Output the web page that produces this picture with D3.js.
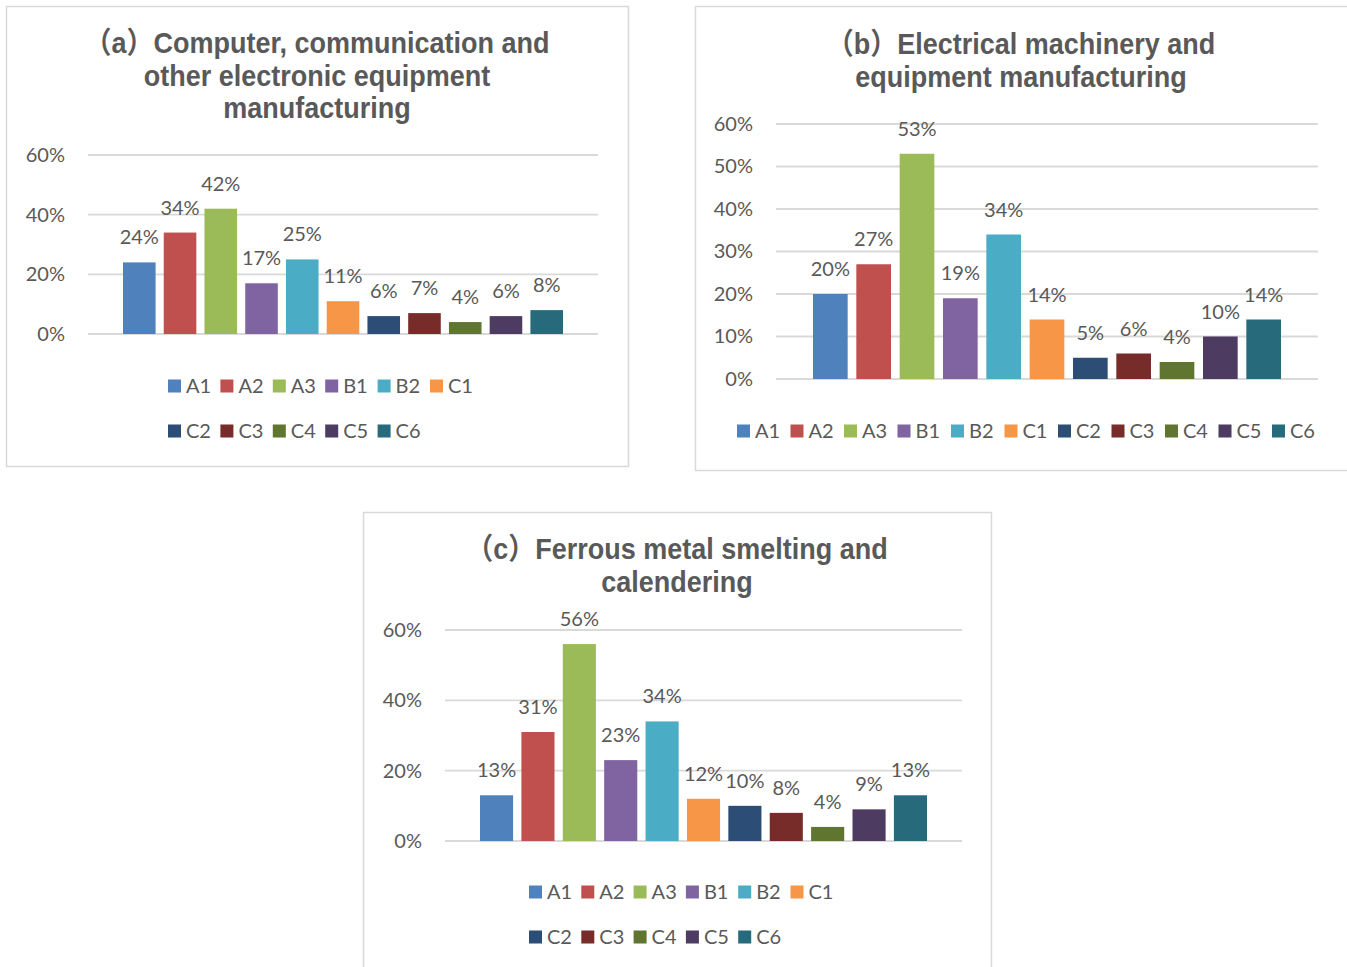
<!DOCTYPE html>
<html>
<head>
<meta charset="utf-8">
<script src="https://cdn.jsdelivr.net/npm/d3@7"></script>
<style>
  html, body { margin: 0; padding: 0; background: #ffffff; }
  svg { display: block; }
</style>
</head>
<body>
<svg id="chart" width="1347" height="967"></svg>
<script>
// ---------------- data ----------------
const categories = ["A1", "A2", "A3", "B1", "B2", "C1", "C2", "C3", "C4", "C5", "C6"];
const colors = ["#4F81BD", "#C0504D", "#9BBB59", "#8064A2", "#4BACC6", "#F79646",
                "#2C4D75", "#772C2A", "#5F7530", "#4D3B62", "#276A7C"];

const valuesA = [24, 34, 42, 17, 25, 11, 6, 7, 4, 6, 8];
const valuesB = [20, 27, 53, 19, 34, 14, 5, 6, 4, 10, 14];
const valuesC = [13, 31, 56, 23, 34, 12, 10, 8, 4, 9, 13];

const ticksA = [0, 20, 40, 60];
const ticksB = [0, 10, 20, 30, 40, 50, 60];
const ticksC = [0, 20, 40, 60];

const titleA = ["（a）Computer, communication and", "other electronic equipment", "manufacturing"];
const titleB = ["（b）Electrical machinery and", "equipment manufacturing"];
const titleC = ["（c）Ferrous metal smelting and", "calendering"];

// ---------------- layout ----------------
const panels = [
  { values: valuesA, ticks: ticksA, title: titleA,
    box: [6, 6, 622, 460], cx: 317, titleY: 43,
    grid: [88, 598], yRange: [334, 155], bars: [123, 563], tickX: 65,
    legend: { x: 168, step: 52.4, rows: [386, 431], perRow: 6 } },
  { values: valuesB, ticks: ticksB, title: titleB,
    box: [695, 6, 660, 464], cx: 1021, titleY: 44,
    grid: [776, 1318], yRange: [379, 124], bars: [813, 1281], tickX: 753,
    legend: { x: 737, step: 53.5, rows: [431], perRow: 11 } },
  { values: valuesC, ticks: ticksC, title: titleC,
    box: [363, 512, 628, 470], cx: 677, titleY: 549,
    grid: [445, 962], yRange: [841, 630], bars: [480, 927], tickX: 422,
    legend: { x: 529, step: 52.3, rows: [892, 937], perRow: 6 } }
];

const textColor = "#595959";
const gridColor = "#D9D9D9";
const numFont = "Lato, 'Open Sans', sans-serif";
const numSize = 20;
const titleFont = "'Liberation Sans', Arial, 'Noto Sans CJK SC', sans-serif";
const titleStretch = 1.1;

const svg = d3.select("#chart");

panels.forEach(p => {
  const g = svg.append("g");

  // border
  g.append("rect")
    .attr("x", p.box[0] + 0.5).attr("y", p.box[1] + 0.5)
    .attr("width", p.box[2]).attr("height", p.box[3])
    .attr("fill", "#fff").attr("stroke", gridColor).attr("stroke-width", 1.5);

  // title (slightly stretched vertically like the reference)
  const t = g.append("text")
    .attr("transform", `translate(${p.cx},${p.titleY}) scale(1,${titleStretch})`)
    .attr("text-anchor", "middle")
    .attr("font-family", titleFont)
    .attr("font-weight", "bold")
    .attr("font-size", 27)
    .attr("fill", textColor);
  p.title.forEach((line, i) => {
    t.append("tspan")
      .attr("x", 0)
      .attr("y", i * 32.5 / titleStretch)
      .attr("dy", "0.35em")
      .text(line);
  });

  const y = d3.scaleLinear().domain([0, d3.max(p.ticks)]).range(p.yRange);
  const x = d3.scaleBand().domain(categories).range(p.bars).paddingInner(0.2).paddingOuter(0);

  // gridlines
  g.append("g").selectAll("line").data(p.ticks).join("line")
    .attr("x1", p.grid[0]).attr("x2", p.grid[1])
    .attr("y1", d => y(d)).attr("y2", d => y(d))
    .attr("stroke", gridColor).attr("stroke-width", 1.8);

  // y axis labels
  const axis = d3.axisLeft(y).tickValues(p.ticks).tickSize(0).tickPadding(0)
    .tickFormat(d => d + "%");
  const ag = g.append("g").attr("transform", `translate(${p.tickX},0)`).call(axis);
  ag.select(".domain").remove();
  ag.selectAll("text")
    .attr("font-family", numFont).attr("font-size", numSize).attr("fill", textColor);

  // bars
  g.append("g").selectAll("rect").data(p.values).join("rect")
    .attr("x", (d, i) => x(categories[i]))
    .attr("width", x.bandwidth())
    .attr("y", d => y(d))
    .attr("height", d => y(0) - y(d))
    .attr("fill", (d, i) => colors[i]);

  // data labels
  g.append("g").selectAll("text").data(p.values).join("text")
    .attr("x", (d, i) => x(categories[i]) + x.bandwidth() / 2)
    .attr("y", d => y(d) - 25)
    .attr("dy", "0.35em")
    .attr("text-anchor", "middle")
    .attr("font-family", numFont).attr("font-size", numSize).attr("fill", textColor)
    .text(d => d + "%");

  // legend
  const lg = g.append("g");
  categories.forEach((c, i) => {
    const row = Math.floor(i / p.legend.perRow);
    const col = i % p.legend.perRow;
    const lx = p.legend.x + col * p.legend.step;
    const ly = p.legend.rows[row];
    lg.append("rect").attr("x", lx).attr("y", ly - 6.5)
      .attr("width", 13).attr("height", 13).attr("fill", colors[i]);
    lg.append("text").attr("x", lx + 18).attr("y", ly).attr("dy", "0.35em")
      .attr("font-family", numFont).attr("font-size", numSize).attr("fill", textColor)
      .text(c);
  });
});
</script>
</body>
</html>
